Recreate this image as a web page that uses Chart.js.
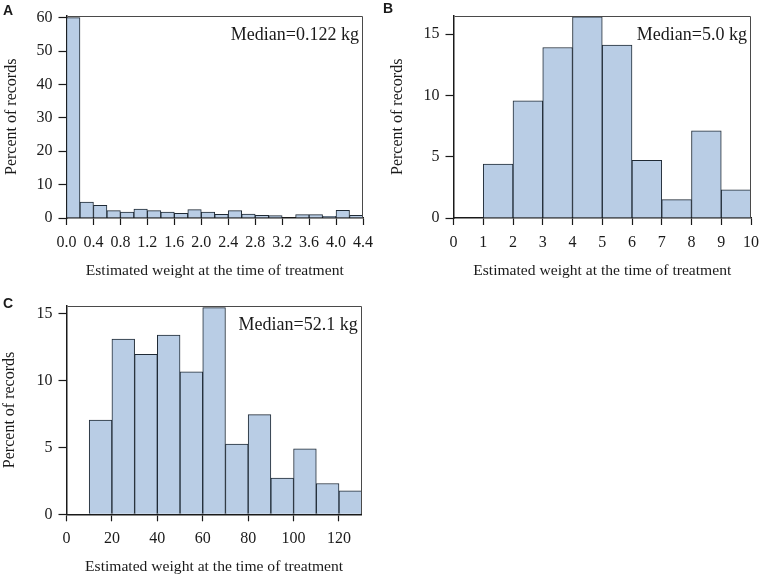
<!DOCTYPE html>
<html>
<head>
<meta charset="utf-8">
<script src="https://cdn.jsdelivr.net/npm/chart.js@4.4.1/dist/chart.umd.min.js"></script>
<style>
  body { margin: 0; background: #fff; }
  #wrap { position: relative; width: 767px; height: 581px; background: #fff; }
  canvas { position: absolute; }
</style>
</head>
<body>
<div id="wrap">
  <canvas id="histA" width="383" height="290" style="left:0;top:0"></canvas>
  <canvas id="histB" width="384" height="290" style="left:383px;top:0"></canvas>
  <canvas id="histC" width="383" height="291" style="left:0;top:290px"></canvas>
</div>
<script>
// Panel A - weight bins of 0.2 kg
var binStartA = [0, 0.2, 0.4, 0.6, 0.8, 1.0, 1.2, 1.4, 1.6, 1.8, 2.0, 2.2, 2.4, 2.6, 2.8, 3.0, 3.2, 3.4, 3.6, 3.8, 4.0, 4.2];
var percentA = [60, 4.8, 3.8, 2.2, 1.8, 2.7, 2.2, 1.8, 1.4, 2.5, 1.8, 1.1, 2.2, 1.2, 0.8, 0.7, 0, 1.0, 1.0, 0.5, 2.3, 0.8];
var xTicksA = ['0.0', '0.4', '0.8', '1.2', '1.6', '2.0', '2.4', '2.8', '3.2', '3.6', '4.0', '4.4'];
var yTicksA = [0, 10, 20, 30, 40, 50, 60];

// Panel B - weight bins of 1 kg
var binStartB = [0, 1, 2, 3, 4, 5, 6, 7, 8, 9];
var percentB = [0, 4.4, 9.55, 13.9, 16.4, 14.1, 4.7, 1.5, 7.1, 2.3];
var xTicksB = ['0', '1', '2', '3', '4', '5', '6', '7', '8', '9', '10'];
var yTicksB = [0, 5, 10, 15];

// Panel C - weight bins of 10 kg
var binStartC = [0, 10, 20, 30, 40, 50, 60, 70, 80, 90, 100, 110, 120];
var percentC = [0, 7.05, 13.1, 11.95, 13.4, 10.65, 15.45, 5.25, 7.45, 2.7, 4.9, 2.3, 1.75];
var xTicksC = ['0', '20', '40', '60', '80', '100', '120'];
var yTicksC = [0, 5, 10, 15];

var xTitle = 'Estimated weight at the time of treatment';
var yTitle = 'Percent of records';

Chart.defaults.font.family = "'Liberation Serif', 'Times New Roman', serif";
Chart.defaults.font.size = 16;
Chart.defaults.color = '#1a1a1a';

// frame box, median note and panel letter
var histDeco = {
    id: 'histDeco',
    afterDraw: function(chart, args, o) {
        var c = chart.ctx, a = chart.chartArea;
        c.save();
        c.strokeStyle = '#4a4a4a';
        c.lineWidth = 1;
        c.beginPath();
        c.moveTo(Math.round(a.left) + 0.5, Math.round(a.top) + 0.5);
        c.lineTo(Math.round(a.right) - 0.5, Math.round(a.top) + 0.5);
        c.lineTo(Math.round(a.right) - 0.5, Math.round(a.bottom));
        c.stroke();
        c.fillStyle = '#1a1a1a';
        c.font = "18px 'Liberation Serif', serif";
        c.textAlign = 'right';
        c.textBaseline = 'alphabetic';
        c.fillText(o.median, a.right - 4, a.top + 24);
        c.font = "bold 14px 'Liberation Sans', Arial, sans-serif";
        c.textAlign = 'left';
        c.fillText(o.letter, o.lx, o.ly);
        c.restore();
    }
};

function makeHist(id, starts, values, width, xTicks, yTicks, p) {
    var pts = starts.map(function(s, i) { return {x: s + width / 2, y: values[i]}; });
    return new Chart(document.getElementById(id).getContext('2d'), {
        type: 'bar',
        data: {
            datasets: [{
                data: pts,
                backgroundColor: '#b9cde5',
                borderColor: '#1f2a35',
                borderWidth: 1,
                barPercentage: 1,
                categoryPercentage: 1
            }]
        },
        options: {
            responsive: false,
            animation: false,
            events: [],
            layout: { padding: { top: p.top, right: p.right, left: 0, bottom: 0 } },
            plugins: {
                legend: { display: false },
                tooltip: { enabled: false },
                histDeco: { median: p.median, letter: p.letter, lx: p.lx, ly: p.ly }
            },
            scales: {
                x: {
                    type: 'linear',
                    offset: false,
                    min: p.xMin,
                    max: p.xMax,
                    afterBuildTicks: function(s) { s.ticks = xTicks.map(function(t) { return {value: parseFloat(t)}; }); },
                    afterFit: function(s) { s.height = p.xh; },
                    ticks: {
                        autoSkip: false, maxRotation: 0, minRotation: 0, padding: 8,
                        callback: function(v, i) { return xTicks[i]; }
                    },
                    grid: { offset: false, drawOnChartArea: false, tickLength: 7, tickWidth: 1.2, color: '#1a1a1a' },
                    border: { color: '#1a1a1a', width: 1.5 },
                    title: { display: true, text: xTitle, font: { size: 15.6 }, padding: { top: 0, bottom: p.xtb } }
                },
                y: {
                    min: 0,
                    max: p.yMax,
                    afterBuildTicks: function(s) { s.ticks = yTicks.map(function(t) { return {value: t}; }); },
                    afterFit: function(s) { s.width = p.yw; },
                    ticks: { padding: 6 },
                    grid: { drawOnChartArea: false, tickLength: 8, tickWidth: 1.2, color: '#1a1a1a' },
                    border: { color: '#1a1a1a', width: 1.5 },
                    title: { display: true, text: yTitle, font: { size: 16 }, padding: { top: p.ytt, bottom: 0 } }
                }
            }
        },
        plugins: [histDeco]
    });
}

var chartA = makeHist('histA', binStartA, percentA, 0.2, xTicksA, yTicksA, {
    xMin: 0, xMax: 4.4, yMax: 60.6, top: 9, right: 20, yw: 66.5, xh: 72, xtb: 10, ytt: 2,
    median: 'Median=0.122 kg', letter: 'A', lx: 3, ly: 15
});
var chartB = makeHist('histB', binStartB, percentB, 1, xTicksB, yTicksB, {
    xMin: 0, xMax: 10, yMax: 16.5, top: 2.5, right: 15, yw: 70.5, xh: 72, xtb: 10, ytt: 5,
    median: 'Median=5.0 kg', letter: 'B', lx: 0, ly: 13
});
var chartC = makeHist('histC', binStartC, percentC, 10, xTicksC, yTicksC, {
    xMin: 0, xMax: 130, yMax: 15.6, top: 9, right: 21.3, yw: 66.5, xh: 66.7, xtb: 5, ytt: 0,
    median: 'Median=52.1 kg', letter: 'C', lx: 3, ly: 18
});
</script>
</body>
</html>
